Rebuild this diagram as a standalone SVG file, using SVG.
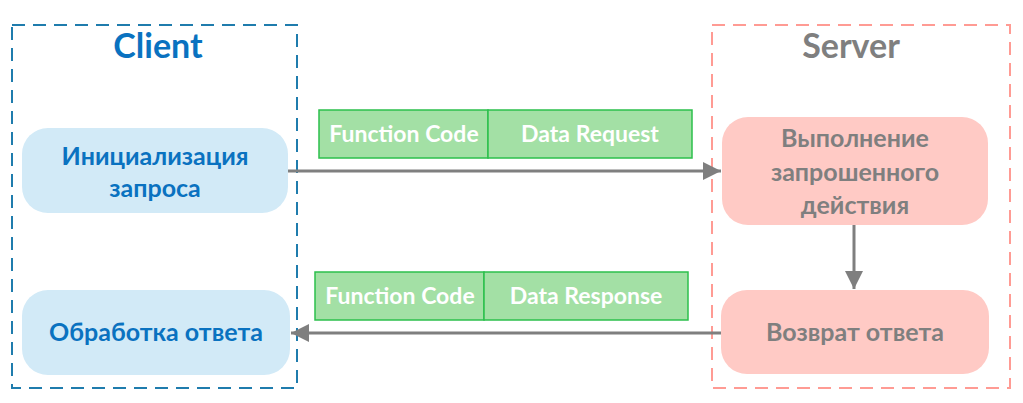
<svg xmlns="http://www.w3.org/2000/svg" width="1023" height="403" viewBox="0 0 1023 403">
<style>
.title{font-family:Lato,"Open Sans",sans-serif;font-weight:bold;font-size:34px;text-anchor:middle}
.lbl{font-family:Lato,"Open Sans",sans-serif;font-weight:bold;font-size:25px;text-anchor:middle}
.pkt{font-family:Lato,"Open Sans",sans-serif;font-weight:bold;font-size:23px;text-anchor:middle;fill:#ffffff}
.cnode{fill:#d2eaf7}
.snode{fill:#ffcac5}
.prect{fill:#a3e0a5;stroke:#2cc04c;stroke-width:1.5}
.conn{stroke:#7f7f7f;stroke-width:3;fill:none}
</style>
<defs>
<marker id="ah" viewBox="0 0 10 10" refX="10" refY="5" markerWidth="6.5" markerHeight="6" markerUnits="strokeWidth" orient="auto">
<path d="M0,0 L10,5 L0,10 z" fill="#7f7f7f"/>
</marker>
</defs>
<g id="client">
<rect x="12" y="25" width="285" height="363" fill="none" stroke="#1f7cad" stroke-width="2" stroke-dasharray="13,8"/>
<text class="title" x="158" y="58" fill="#0a72c0">Client</text>
</g>
<g id="server">
<rect x="712" y="25" width="298" height="363" fill="none" stroke="#ff9b94" stroke-width="2" stroke-dasharray="13,8"/>
<text class="title" x="851" y="58" fill="#7f7f7f">Server</text>
</g>
<g id="connectors">
<line class="conn" x1="288" y1="171" x2="721" y2="171" marker-end="url(#ah)"/>
<line class="conn" x1="722" y1="333" x2="291" y2="333" marker-end="url(#ah)"/>
<line class="conn" x1="854" y1="225" x2="854" y2="289" marker-end="url(#ah)"/>
</g>
<g id="init">
<rect class="cnode" x="22" y="128" width="266" height="85" rx="26"/>
<text class="lbl" x="155" y="165" fill="#0a72c0">Инициализация</text>
<text class="lbl" x="155" y="197" fill="#0a72c0">запроса</text>
</g>
<g id="process">
<rect class="cnode" x="22" y="290" width="268" height="85" rx="26"/>
<text class="lbl" x="156" y="341" fill="#0a72c0">Обработка ответа</text>
</g>
<g id="execute">
<rect class="snode" x="722" y="117" width="266" height="108" rx="26"/>
<text class="lbl" x="855" y="147" fill="#7f7f7f">Выполнение</text>
<text class="lbl" x="855" y="181" fill="#7f7f7f">запрошенного</text>
<text class="lbl" x="855" y="214" fill="#7f7f7f">действия</text>
</g>
<g id="reply">
<rect class="snode" x="721" y="290" width="268" height="84" rx="26"/>
<text class="lbl" x="855" y="341" fill="#7f7f7f">Возврат ответа</text>
</g>
<g id="request-packet">
<rect class="prect" x="319" y="110" width="169" height="48"/>
<rect class="prect" x="488" y="110" width="204" height="48"/>
<text class="pkt" x="404" y="142">Function Code</text>
<text class="pkt" x="590" y="142">Data Request</text>
</g>
<g id="response-packet">
<rect class="prect" x="315" y="272" width="169" height="48"/>
<rect class="prect" x="484" y="272" width="204" height="48"/>
<text class="pkt" x="400" y="304">Function Code</text>
<text class="pkt" x="586" y="304">Data Response</text>
</g>
</svg>
